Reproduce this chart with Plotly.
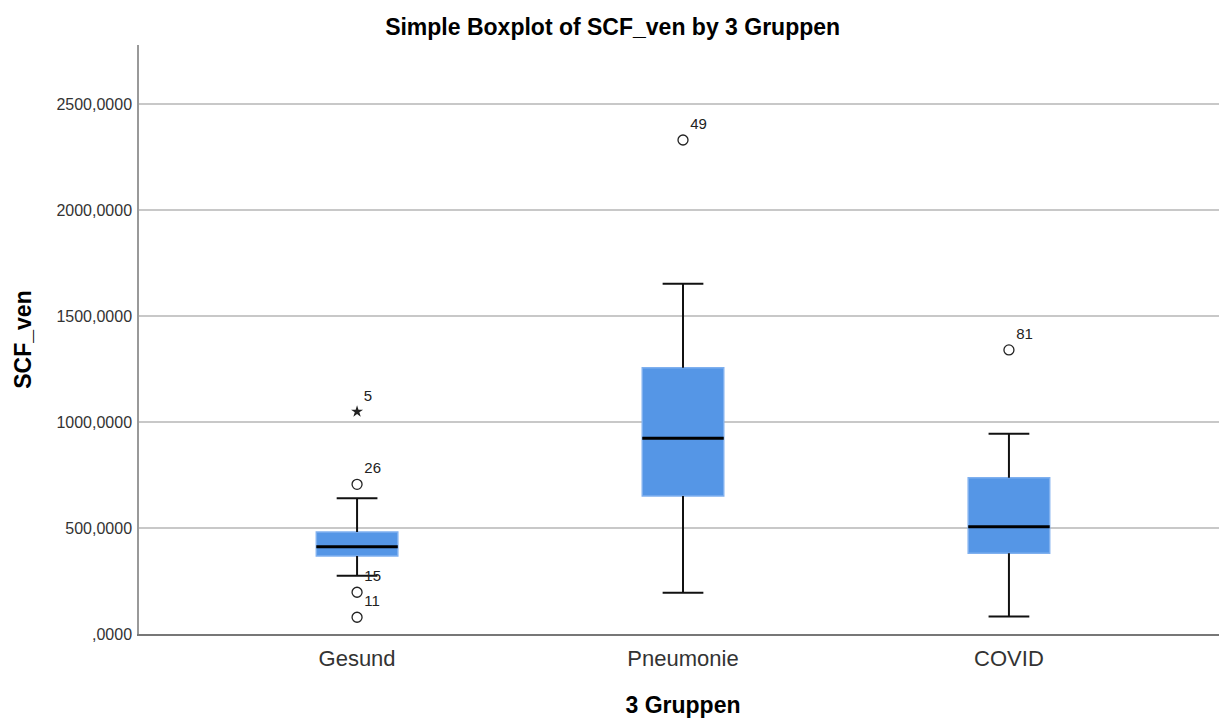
import plotly.graph_objects as go

# ---- data ----
groups = ["Gesund", "Pneumonie", "COVID"]
q1 = [368, 651, 381]
median = [412, 923, 506]
q3 = [481, 1256, 737]
lower_whisker = [275, 195, 82]
upper_whisker = [640, 1652, 945]

# outliers (circles) and extremes (stars): group index, value, case label
out_group = [0, 0, 0, 1, 2]
out_value = [706, 197, 79, 2330, 1340]
out_label = ["26", "15", "11", "49", "81"]
extreme_group = [0]
extreme_value = [1049]
extreme_label = ["5"]

y_ticks = [0, 500, 1000, 1500, 2000, 2500]

# ---- style ----
BOX_W = 0.25
CAP_W = 0.125
BLUE = "#5596e6"
EDGE = "#7fb0ef"
FONT = "Liberation Sans, Arial, sans-serif"


def fmt(v):
    s = f"{v:.4f}".replace(".", ",")
    return s[1:] if s.startswith("0,") else s


xs = list(range(len(groups)))
fig = go.Figure()

# box body
fig.add_trace(go.Bar(
    x=xs, base=q1, y=[b - a for a, b in zip(q1, q3)], width=BOX_W,
    marker=dict(color=BLUE, line=dict(color=EDGE, width=1.5)),
    showlegend=False, hoverinfo="skip",
))

# whiskers + caps
wx, wy = [], []
for i in xs:
    wx += [i, i, None, i, i, None]
    wy += [q3[i], upper_whisker[i], None, q1[i], lower_whisker[i], None]
    wx += [i - CAP_W / 2, i + CAP_W / 2, None, i - CAP_W / 2, i + CAP_W / 2, None]
    wy += [upper_whisker[i], upper_whisker[i], None, lower_whisker[i], lower_whisker[i], None]
fig.add_trace(go.Scatter(x=wx, y=wy, mode="lines",
                         line=dict(color="#111", width=2),
                         showlegend=False, hoverinfo="skip"))

# median lines
mx, my = [], []
for i in xs:
    mx += [i - BOX_W / 2, i + BOX_W / 2, None]
    my += [median[i], median[i], None]
fig.add_trace(go.Scatter(x=mx, y=my, mode="lines",
                         line=dict(color="black", width=3),
                         showlegend=False, hoverinfo="skip"))

# outliers
fig.add_trace(go.Scatter(
    x=out_group, y=out_value, mode="markers+text", text=out_label,
    textposition="top right",
    textfont=dict(family=FONT, size=15, color="#222"),
    marker=dict(symbol="circle-open", size=10, color="#222", line=dict(width=1.3)),
    showlegend=False, hoverinfo="skip",
))
fig.add_trace(go.Scatter(
    x=extreme_group, y=extreme_value, mode="markers+text", text=extreme_label,
    textposition="top right",
    textfont=dict(family=FONT, size=15, color="#222"),
    marker=dict(symbol="star", size=9, color="#222"),
    showlegend=False, hoverinfo="skip",
))

fig.update_layout(
    width=1219, height=710,
    margin=dict(l=131, r=0, t=37, b=84),
    paper_bgcolor="white", plot_bgcolor="white",
    font=dict(family=FONT, color="#222"),
    title=dict(text="<b>Simple Boxplot of SCF_ven by 3 Gruppen</b>",
               x=0.496, xref="container", xanchor="center",
               y=0.973, yref="container", yanchor="middle",
               font=dict(size=23, color="black")),
    xaxis=dict(
        range=[-0.669, 2.669], tickvals=xs, ticktext=groups,
        showgrid=False, zeroline=False,
        showline=True, linecolor="#777", linewidth=2,
        ticks="", ticklabelstandoff=4, tickfont=dict(size=22, color="#333"),
        title=dict(text="<b>3 Gruppen</b>", font=dict(size=23, color="black"), standoff=27),
    ),
    yaxis=dict(
        range=[0, 2778], tickvals=y_ticks, ticktext=[fmt(v) for v in y_ticks],
        showgrid=True, gridcolor="#c8c8c8", gridwidth=1.5, zeroline=False,
        showline=True, linecolor="#999", linewidth=1.5,
        ticks="", ticklabelstandoff=2, tickfont=dict(size=16, color="#333"),
        title=dict(text="<b>SCF_ven</b>", font=dict(size=23, color="black"), standoff=18),
    ),
)

fig.write_html("out.html")
